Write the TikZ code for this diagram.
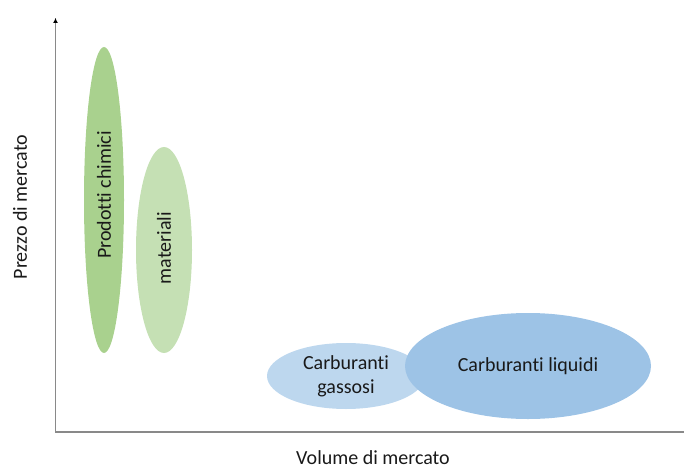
\documentclass[tikz,border=0pt]{standalone}
\usepackage{fontspec}
\setmainfont[Ligatures=NoCommon]{Carlito}
\usetikzlibrary{arrows.meta}
\definecolor{axisgray}{HTML}{898989}
\definecolor{chemgreen}{HTML}{A9D18E}
\definecolor{matgreen}{HTML}{C5E0B4}
\definecolor{gasblue}{HTML}{BDD7EE}
\definecolor{liqblue}{HTML}{9DC3E6}
\begin{document}
\begin{tikzpicture}[x=1pt,y=-1pt,
  lbl/.style={font=\fontsize{20}{24}\selectfont, text=black!90, inner sep=0pt},
  axisline/.style={draw=axisgray, line width=1.4pt}]
\useasboundingbox (0,0) rectangle (684,470);
\coordinate (origin) at (55.5,432);
\coordinate (ytop) at (55.5,18);
\coordinate (xend) at (684,432);
\draw[axisline] (xend) -- (origin) -- (ytop);
\draw[axisgray, line width=1.4pt, -{Latex[length=5pt,width=5pt,black]}] (55.5,30) -- (ytop);
% ellipses
\fill[chemgreen] (104,200) ellipse [x radius=20, y radius=153];
\node[lbl, rotate=90] (chem) at (104,195) {Prodotti chimici};
\fill[matgreen] (164,250) ellipse [x radius=28, y radius=103];
\node[lbl, rotate=90] (mat) at (164,248) {materiali};
\fill[gasblue] (346,376) ellipse [x radius=79, y radius=33];
\node[lbl, align=center] (gas) at (346,376) {Carburanti\\gassosi};
\fill[liqblue] (528,366) ellipse [x radius=123, y radius=53];
\node[lbl] (liq) at (528,366) {Carburanti liquidi};
% axis labels
\node[lbl, rotate=90] (ylab) at (20,207) {Prezzo di mercato};
\node[lbl] (xlab) at (373,458) {Volume di mercato};
\end{tikzpicture}
\end{document}
